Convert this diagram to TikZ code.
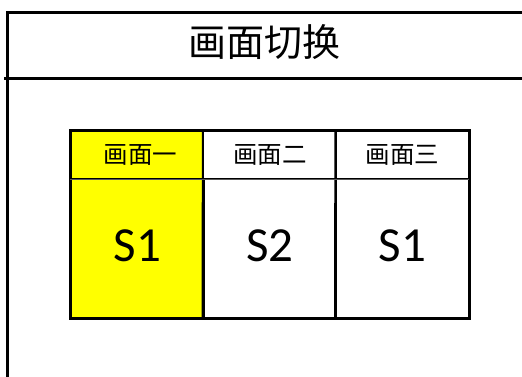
\documentclass[tikz,border=0pt]{standalone}
\usepackage{fontspec}
\newfontfamily\cjkfont{Noto Sans CJK SC}
\newfontfamily\calfont{Carlito}
\definecolor{ylw}{HTML}{FFFF00}
\begin{document}
\begin{tikzpicture}[x=1pt,y=-1pt,
  frame/.style={line width=3pt,black},
  hcell/.style={draw=black,line width=1.2pt,minimum width=132.5pt,minimum height=48pt,inner sep=0pt,font=\cjkfont\fontsize{24.5}{24.5}\selectfont},
  bcell/.style={draw=black,line width=2pt,minimum width=132.5pt,minimum height=139pt,inner sep=0pt,font=\calfont\fontsize{49}{49}\selectfont}]
\useasboundingbox (0,0) rectangle (522,376);
% outer frame
\coordinate (tl) at (7,12);
\coordinate (tr) at (524,12);
\coordinate (bl) at (7,378);
\coordinate (hl) at (4,78);
\coordinate (hr) at (524,78);
\draw[frame] (tr) -- (tl) -- (bl);
\draw[frame] (hl) -- (hr);
\node[font=\cjkfont\fontsize{38}{38}\selectfont] (title) at (264,42) {画面切换};
% table
\node[hcell,fill=ylw] (h1) at (137.25,155) {\hspace{6pt}画面一};
\node[hcell] (h2) at (269.75,155) {画面二};
\node[hcell] (h3) at (402.25,155) {画面三};
\node[bcell,fill=ylw] (b1) at (137.25,248.5) {\raisebox{5pt}{S1}};
\node[bcell] (b2) at (269.75,248.5) {\raisebox{5pt}{S2}};
\node[bcell] (b3) at (402.25,248.5) {\raisebox{5pt}{S1}};
\draw[line width=2.5pt] (h1.north west) rectangle (b3.south east);
\draw[line width=2pt] (h2.north west) -- (b2.south west);
\draw[line width=2pt] (h3.north west) -- (b3.south west);
\draw[line width=1pt,gray!70!black] (h1.south west) -- (h3.south east);
\end{tikzpicture}
\end{document}
